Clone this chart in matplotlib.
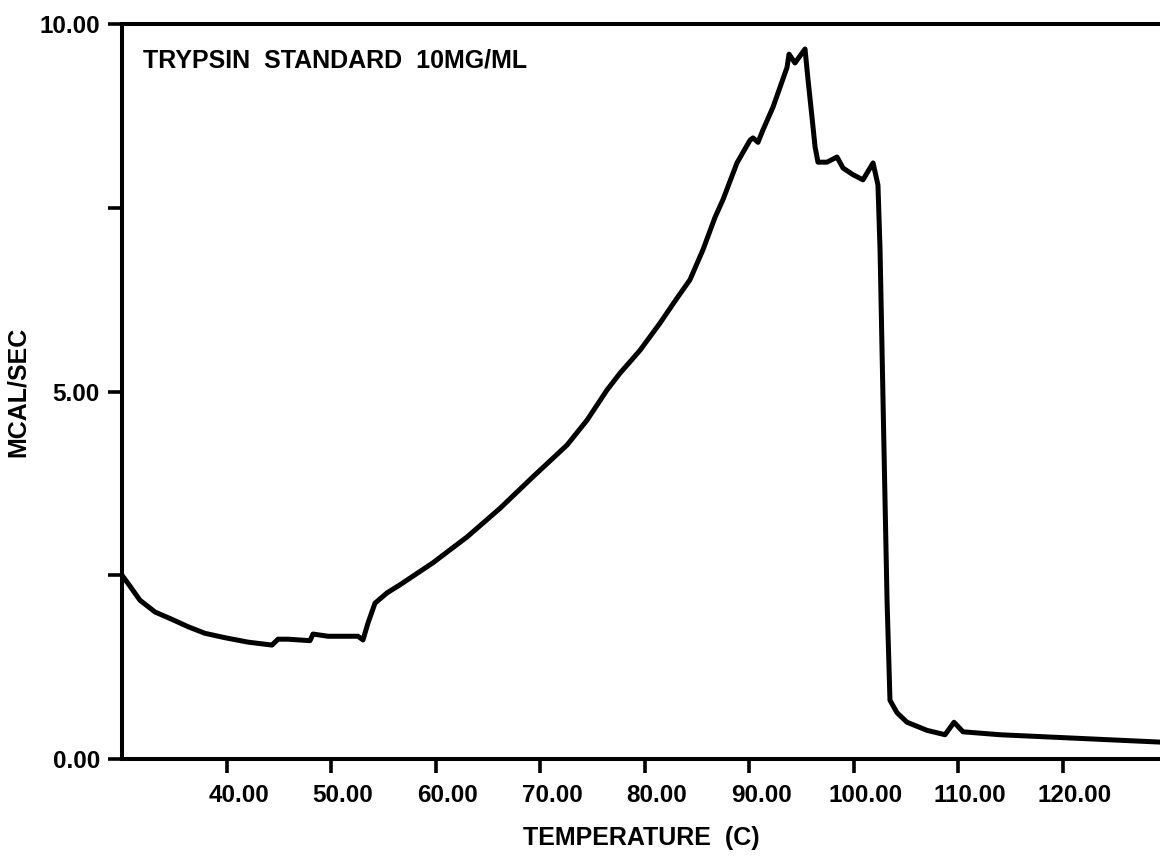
import matplotlib
matplotlib.use('Agg')
import matplotlib.pyplot as plt
import matplotlib.transforms as mtransforms

# temperature (C) and heat flow (MCAL/SEC)
temp = [30.0, 30.57, 31.72, 33.16, 34.78, 36.32, 37.94, 39.86, 42.06, 44.35,
        44.93, 45.89, 47.99, 48.28, 49.71, 52.58, 53.06, 53.54, 54.21, 55.36,
        56.60, 59.76, 63.01, 66.17, 69.33, 72.58, 74.50, 76.41, 77.66, 79.57,
        81.48, 83.11, 84.35, 85.60, 86.75, 87.51, 88.85, 90.10, 90.38, 90.86,
        91.34, 92.30, 92.97, 93.64, 93.83, 94.40, 95.36, 95.65, 96.03, 96.32,
        96.60, 97.46, 98.42, 99.00, 99.95, 100.91, 101.87, 102.34, 102.54, 102.92,
        103.21, 103.49, 104.16, 105.12, 107.03, 108.76, 109.62, 110.48, 114.02, 129.33]
heat = [2.50, 2.39, 2.16, 2.00, 1.90, 1.80, 1.71, 1.65, 1.59, 1.55,
        1.63, 1.63, 1.61, 1.70, 1.67, 1.67, 1.62, 1.85, 2.12, 2.26,
        2.37, 2.67, 3.02, 3.41, 3.84, 4.27, 4.61, 5.02, 5.25, 5.56,
        5.93, 6.27, 6.52, 6.93, 7.37, 7.61, 8.11, 8.42, 8.45, 8.39,
        8.56, 8.87, 9.14, 9.41, 9.59, 9.47, 9.66, 9.24, 8.73, 8.33,
        8.12, 8.12, 8.19, 8.04, 7.95, 7.88, 8.11, 7.81, 6.93, 4.20,
        2.16, 0.80, 0.63, 0.50, 0.39, 0.33, 0.50, 0.37, 0.33, 0.23]

x_ticks = [40, 50, 60, 70, 80, 90, 100, 110, 120]
y_ticks = [0, 5, 10]
y_minor = [2.5, 7.5]

plt.rcParams['font.family'] = ['Liberation Sans', 'DejaVu Sans']
plt.rcParams['font.weight'] = 'bold'

fig = plt.figure(figsize=(11.6, 8.59), dpi=100)
ax = fig.add_axes([122 / 1160, 100 / 859, 1 - 122 / 1160, 735 / 859])

ax.plot(temp, heat, color='black', lw=3.6, solid_joinstyle='round')

ax.set_xlim(30, 129.33)
ax.set_ylim(0, 10)

ax.set_xticks(x_ticks)
ax.set_xticklabels([f'{t:.2f}' for t in x_ticks])
ax.set_yticks(y_ticks)
ax.set_yticklabels([f'{v:.2f}' for v in y_ticks])
ax.set_yticks(y_minor, minor=True)

for side in ['left', 'bottom', 'top']:
    ax.spines[side].set_linewidth(2.9)
ax.spines['right'].set_visible(False)

ax.tick_params(axis='x', direction='out', length=10, width=2.6, pad=8,
               labelsize=17.5)
ax.tick_params(axis='y', which='both', direction='out', length=10, width=2.6,
               pad=6, labelsize=17.5)

# tick labels sit a little right of their ticks in the original
offset = mtransforms.ScaledTranslation(12 / 100, 0, fig.dpi_scale_trans)
for lab in ax.get_xticklabels():
    lab.set_transform(lab.get_transform() + offset)

ax.set_xlabel('TEMPERATURE  (C)', fontsize=18, fontweight='bold', labelpad=14)
ax.set_ylabel('MCAL/SEC', fontsize=18, fontweight='bold', labelpad=7)

ax.text(0.02, 0.951, 'TRYPSIN  STANDARD  10MG/ML', transform=ax.transAxes,
        fontsize=18, fontweight='bold', va='center', ha='left')

fig.savefig('out.png', dpi=100)
